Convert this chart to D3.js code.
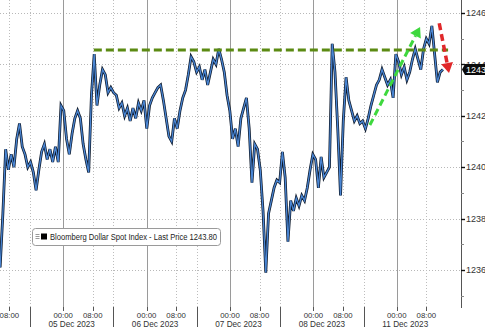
<!DOCTYPE html>
<html><head><meta charset="utf-8">
<script src="https://cdn.jsdelivr.net/npm/d3@7"></script>
<style>html,body{margin:0;padding:0;background:#fff;overflow:hidden}</style>
</head><body><svg id="c" width="485" height="327"></svg>
<script>
// ---------- data ----------
const dayLabels = ["05 Dec 2023", "06 Dec 2023", "07 Dec 2023", "08 Dec 2023", "11 Dec 2023"];
const hourTickLabels = ["00:00", "08:00"];
const hourTickOffsets = [9, 17];          // hours after session open (15:00)
const sessionLength = 22.6;               // trading hours per session (gaps compressed)
const yTicks = [1236, 1238, 1240, 1242, 1244, 1246];
const yMinorTicks = [1235, 1237, 1239, 1241, 1243, 1245];
const seriesName = "Bloomberg Dollar Spot Index - Last Price";
const lastPrice = 1243.80;
const priceStartHour = 14.5;              // session-hours since 04 Dec session open
const priceStepHours = 0.75;
const prices = [
  1236.1, 1238.2, 1240.7, 1239.9, 1240.5, 1240.0, 1241.1, 1241.7, 1240.8, 1240.5,
  1240.0, 1240.2, 1239.8, 1239.1, 1239.9, 1240.6, 1240.9, 1240.3, 1240.7, 1240.2,
  1240.8, 1240.2, 1242.4, 1242.2, 1241.1, 1240.5, 1241.3, 1241.9, 1242.2, 1241.9,
  1240.9, 1240.3, 1239.8, 1242.8, 1244.4, 1242.4, 1243.2, 1243.8, 1243.6, 1242.9,
  1243.1, 1242.9, 1242.8, 1242.3, 1242.5, 1242.0, 1242.3, 1241.8, 1242.3, 1241.9,
  1242.5, 1242.2, 1242.6, 1241.5, 1242.4, 1242.7, 1242.9, 1243.1, 1243.2, 1242.6,
  1241.9, 1241.2, 1241.0, 1241.9, 1241.5, 1242.2, 1242.7, 1243.0, 1243.6, 1244.3,
  1244.1, 1243.7, 1243.9, 1243.4, 1243.8, 1243.2, 1243.7, 1244.2, 1244.0, 1244.6,
  1244.2, 1243.7, 1242.8, 1242.2, 1241.1, 1241.5, 1240.8, 1241.9, 1242.3, 1242.7,
  1241.5, 1239.4, 1240.9, 1240.7, 1239.9, 1238.3, 1235.9, 1238.2, 1238.7, 1239.2,
  1239.5, 1239.4, 1240.6, 1239.6, 1237.1, 1238.7, 1238.3, 1238.8, 1238.5, 1238.9,
  1238.7, 1239.2, 1239.9, 1240.5, 1240.3, 1239.2, 1240.4, 1239.6, 1239.8, 1240.0,
  1244.8, 1243.7, 1241.5, 1238.9, 1241.8, 1243.5, 1242.6, 1242.2, 1241.8, 1242.0,
  1241.7, 1241.8, 1241.5, 1241.9, 1242.4, 1242.8, 1243.2, 1243.4, 1243.8, 1243.5,
  1243.2, 1243.4, 1242.7, 1244.4, 1244.1, 1243.6, 1243.9, 1243.4, 1243.7, 1244.2,
  1244.6, 1244.2, 1243.8, 1244.6, 1245.0, 1244.8, 1245.5, 1244.4, 1243.3, 1243.7,
  1243.8
];
// annotations (session-hours, price)
const resistance = [[39.9, 1244.56], [135.9, 1244.56]];
const upArrow = [[114.7, 1241.64], [128.3, 1245.46]];
const downArrow = [[133.5, 1245.6], [136.15, 1243.67]];

// ---------- layout ----------
const W = 485, H = 327;
const plot = {left: 0, right: 461, top: 0, bottom: 307};
const svg = d3.select("#c");
const FONT = "'Liberation Sans', Arial, sans-serif";

const x = d3.scaleLinear().domain([14.47, 139.4]).range([plot.left, plot.right]);
const y = d3.scaleLinear().domain([1234.56, 1246.506]).range([plot.bottom, plot.top]);

const defs = svg.append("defs");
defs.append("clipPath").attr("id", "clip").append("rect")
  .attr("x", plot.left).attr("y", plot.top)
  .attr("width", plot.right - plot.left).attr("height", plot.bottom - plot.top);

// ---------- gridlines ----------
const grid = svg.append("g");
yTicks.forEach(v => {
  grid.append("line").attr("x1", plot.left).attr("x2", plot.right)
    .attr("y1", Math.round(y(v)) + 0.5).attr("y2", Math.round(y(v)) + 0.5)
    .attr("stroke", "#b8b8b8").attr("stroke-width", 1).attr("stroke-dasharray", "1,2");
});

const sessions = d3.range(0, 6);
const hourTicks = [];
sessions.forEach(k => hourTickOffsets.forEach((o, j) =>
  hourTicks.push({u: k * sessionLength + o, label: hourTickLabels[j], solid: j === 0})));
const separators = d3.range(1, 6).map(k => k * sessionLength);

hourTicks.forEach(t => {
  const px = Math.round(x(t.u)) + 0.5;
  grid.append("line").attr("x1", px).attr("x2", px).attr("y1", plot.top).attr("y2", plot.bottom)
    .attr("stroke", t.solid ? "#9a9a9a" : "#bdbdbd").attr("stroke-width", 1)
    .attr("stroke-dasharray", t.solid ? null : "1,2");
});
separators.forEach(u => {
  const px = Math.round(x(u)) + 0.5;
  grid.append("line").attr("x1", px).attr("x2", px).attr("y1", plot.top).attr("y2", plot.bottom)
    .attr("stroke", "#bdbdbd").attr("stroke-width", 1).attr("stroke-dasharray", "1,2");
});

// ---------- series ----------
const pts = prices.map((p, i) => [priceStartHour + i * priceStepHours, p]);
const line = d3.line().x(d => x(d[0])).y(d => y(d[1]));
const sg = svg.append("g").attr("clip-path", "url(#clip)");
sg.append("path").datum(pts).attr("d", line).attr("fill", "none")
  .attr("stroke", "#0e1a2c").attr("stroke-width", 2.8).attr("stroke-linejoin", "miter");
sg.append("path").datum(pts).attr("d", line).attr("fill", "none")
  .attr("stroke", "#4a86d4").attr("stroke-width", 1.3).attr("stroke-linejoin", "miter");

// ---------- annotations ----------
svg.append("path").datum(resistance).attr("d", line).attr("fill", "none")
  .attr("stroke", "#5b8a12").attr("stroke-width", 3).attr("stroke-dasharray", "8,4");

function arrow(data, color, width, dash) {
  const p0 = [x(data[0][0]), y(data[0][1])], p1 = [x(data[1][0]), y(data[1][1])];
  const ang = Math.atan2(p1[1] - p0[1], p1[0] - p0[0]);
  const hl = 10, hw = 6;
  const bx = p1[0] - hl * Math.cos(ang), by = p1[1] - hl * Math.sin(ang);
  svg.append("line").attr("x1", p0[0]).attr("y1", p0[1]).attr("x2", bx).attr("y2", by)
    .attr("stroke", color).attr("stroke-width", width).attr("stroke-dasharray", dash);
  const nx = -Math.sin(ang), ny = Math.cos(ang);
  svg.append("path")
    .attr("d", `M${p1[0]},${p1[1]}L${bx + nx * hw},${by + ny * hw}L${bx - nx * hw},${by - ny * hw}Z`)
    .attr("fill", color);
}
arrow(upArrow, "#3ed83e", 3, "7,4");
arrow(downArrow, "#e0282a", 3.5, "7,4");

// ---------- right axis ----------
const ax = svg.append("g");
ax.append("line").attr("x1", plot.right + 0.5).attr("x2", plot.right + 0.5)
  .attr("y1", 0).attr("y2", plot.bottom + 1).attr("stroke", "#555").attr("stroke-width", 1);
yMinorTicks.forEach(v => {
  ax.append("line").attr("x1", plot.right).attr("x2", plot.right + 3)
    .attr("y1", Math.round(y(v)) + 0.5).attr("y2", Math.round(y(v)) + 0.5)
    .attr("stroke", "#888");
});
yTicks.forEach(v => {
  ax.append("line").attr("x1", plot.right).attr("x2", plot.right + 4)
    .attr("y1", Math.round(y(v)) + 0.5).attr("y2", Math.round(y(v)) + 0.5)
    .attr("stroke", "#111").attr("stroke-width", 1.4);
  ax.append("text").attr("x", plot.right + 5).attr("y", y(v) + 3.3)
    .attr("font-family", FONT).attr("font-size", 9).attr("fill", "#333")
    .text(d3.format(".2f")(v));
});
// last price badge
const ly = y(lastPrice);
ax.append("path")
  .attr("d", `M${plot.right + 1},${ly}L${plot.right + 4},${ly - 5.5}H${W}V${ly + 5.5}H${plot.right + 4}Z`)
  .attr("fill", "#0b0b0b");
ax.append("text").attr("x", plot.right + 5).attr("y", ly + 3.3)
  .attr("font-family", FONT).attr("font-size", 9).attr("fill", "#fff")
  .text(d3.format(".2f")(lastPrice));

// ---------- bottom axis ----------
const bx = svg.append("g");
hourTicks.forEach(t => {
  const px = Math.round(x(t.u)) + 0.5;
  bx.append("line").attr("x1", px).attr("x2", px).attr("y1", plot.bottom).attr("y2", plot.bottom + 4)
    .attr("stroke", "#555");
  bx.append("text").attr("x", x(t.u)).attr("y", 317.5).attr("text-anchor", "middle")
    .attr("font-family", FONT).attr("font-size", 7.8).attr("fill", "#333").text(t.label);
});
separators.forEach(u => {
  const px = Math.round(x(u)) + 0.5;
  bx.append("line").attr("x1", px).attr("x2", px).attr("y1", plot.bottom).attr("y2", H)
    .attr("stroke", "#555");
});
dayLabels.forEach((d, i) => {
  const k = i + 1;
  bx.append("text").attr("x", x(k * sessionLength + sessionLength / 2)).attr("y", 326.8)
    .attr("text-anchor", "middle").attr("font-family", FONT).attr("font-size", 8.2)
    .attr("fill", "#333").text(d);
});

// ---------- legend ----------
const lg = svg.append("g");
lg.append("rect").attr("x", 32.5).attr("y", 228.5).attr("width", 188).attr("height", 17)
  .attr("rx", 3).attr("fill", "#fff").attr("stroke", "#9a9a9a");
[0, 2, 4].forEach(o => lg.append("line").attr("x1", 35.5).attr("x2", 39.5)
  .attr("y1", 234.5 + o).attr("y2", 234.5 + o).attr("stroke", "#999"));
lg.append("rect").attr("x", 41).attr("y", 233.5).attr("width", 6).attr("height", 6).attr("fill", "#000");
lg.append("text").attr("x", 50).attr("y", 240).attr("font-family", FONT).attr("font-size", 8.5)
  .attr("fill", "#222").attr("textLength", 167).attr("lengthAdjust", "spacingAndGlyphs")
  .text(`${seriesName} ${d3.format(".2f")(lastPrice)}`);
</script></body></html>
